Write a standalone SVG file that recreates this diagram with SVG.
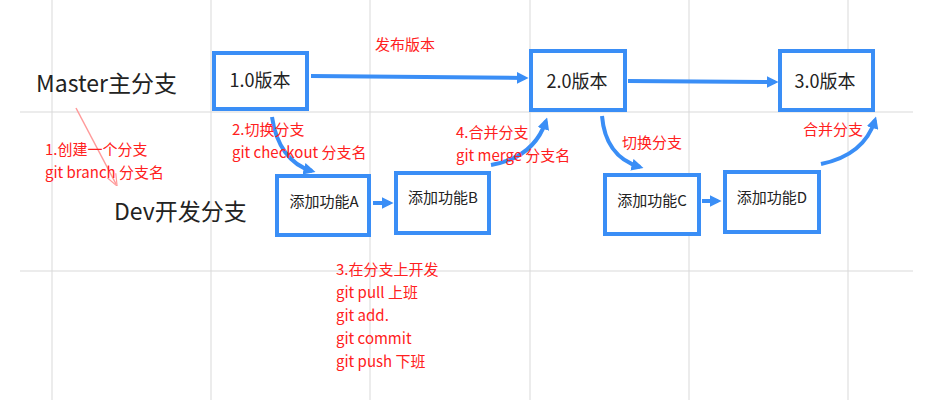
<svg xmlns="http://www.w3.org/2000/svg" width="931" height="417" viewBox="0 0 931 417">
<style>
.g{stroke:#d9d9d9;stroke-width:1}
.n{fill:#fff;stroke:#3a8ef6;stroke-width:4}
.t{font-family:"Noto Sans CJK SC","Noto Sans",sans-serif;fill:#222}
.r{font-family:"Noto Sans CJK SC","Noto Sans",sans-serif;fill:#ff2020;font-size:15px}
.c{fill:none;stroke:#3a8ef6;stroke-width:4}
</style>
<defs>
<marker id="a" viewBox="0 0 10 10" refX="7" refY="5" markerWidth="3" markerHeight="3" orient="auto"><path d="M0,0L10,5L0,10z" fill="#3a8ef6"/></marker>
<marker id="p" viewBox="0 0 10 10" refX="8" refY="5" markerWidth="8" markerHeight="8" orient="auto"><path d="M0,1L10,5L0,9" fill="none" stroke="#ff9a9a" stroke-width="1"/></marker>
</defs>
<rect width="931" height="417" fill="#fff"/>
<g id="grid">
<line class="g" x1="52" y1="0" x2="52" y2="400"/><line class="g" x1="211" y1="0" x2="211" y2="400"/><line class="g" x1="370" y1="0" x2="370" y2="400"/><line class="g" x1="530" y1="0" x2="530" y2="400"/><line class="g" x1="689" y1="0" x2="689" y2="400"/><line class="g" x1="848" y1="0" x2="848" y2="400"/>
<line class="g" x1="20" y1="112" x2="913" y2="112"/><line class="g" x1="20" y1="271" x2="913" y2="271"/>
</g>
<text class="t" x="36" y="92" font-size="23">Master主分支</text>
<text class="t" x="114" y="220" font-size="23">Dev开发分支</text>
<g id="connectors">
<line x1="76" y1="108" x2="116" y2="184" stroke="#ff9a9a" stroke-width="1.5" marker-end="url(#p)"/>
<line class="c" x1="311" y1="76" x2="525" y2="78" marker-end="url(#a)"/>
<line class="c" x1="628" y1="81" x2="775" y2="82" marker-end="url(#a)"/>
<path class="c" d="M272,117 C276,145 290,165 312,171" marker-end="url(#a)"/>
<line class="c" x1="373" y1="203" x2="390" y2="203" marker-end="url(#a)"/>
<path class="c" d="M491,165 C520,160 538,145 546,121" marker-end="url(#a)"/>
<path class="c" d="M602,116 C604,140 615,160 640,167" marker-end="url(#a)"/>
<line class="c" x1="702" y1="201" x2="718" y2="201" marker-end="url(#a)"/>
<path class="c" d="M821,164 C850,158 868,143 875,120" marker-end="url(#a)"/>
</g>
<g id="n1"><rect class="n" x="214" y="53" width="93" height="56"/><text class="t" x="260" y="87" font-size="18" text-anchor="middle">1.0版本</text></g>
<g id="n2"><rect class="n" x="531" y="51" width="94" height="59"/><text class="t" x="577" y="88" font-size="18" text-anchor="middle">2.0版本</text></g>
<g id="n3"><rect class="n" x="780" y="51" width="93" height="59"/><text class="t" x="825" y="88" font-size="18" text-anchor="middle">3.0版本</text></g>
<g id="nA"><rect class="n" x="277" y="176" width="92" height="59"/><text class="t" x="324" y="207" font-size="15" text-anchor="middle">添加功能A</text></g>
<g id="nB"><rect class="n" x="396" y="173" width="93" height="60"/><text class="t" x="443" y="203" font-size="15" text-anchor="middle">添加功能B</text></g>
<g id="nC"><rect class="n" x="605" y="175" width="94" height="59"/><text class="t" x="652" y="206" font-size="15" text-anchor="middle">添加功能C</text></g>
<g id="nD"><rect class="n" x="725" y="172" width="94" height="60"/><text class="t" x="772" y="203" font-size="15" text-anchor="middle">添加功能D</text></g>
<text class="r" x="375" y="50">发布版本</text>
<text class="r" x="45" y="155">1.创建一个分支</text>
<text class="r" x="45" y="178">git branch 分支名</text>
<text class="r" x="232" y="135">2.切换分支</text>
<text class="r" x="232" y="158">git checkout 分支名</text>
<text class="r" x="456" y="138">4.合并分支</text>
<text class="r" x="456" y="161">git merge 分支名</text>
<text class="r" x="622" y="148">切换分支</text>
<text class="r" x="803" y="135">合并分支</text>
<text class="r" x="336" y="275">3.在分支上开发</text>
<text class="r" x="336" y="298">git pull 上班</text>
<text class="r" x="336" y="321">git add.</text>
<text class="r" x="336" y="344">git commit</text>
<text class="r" x="336" y="367">git push 下班</text>
</svg>
